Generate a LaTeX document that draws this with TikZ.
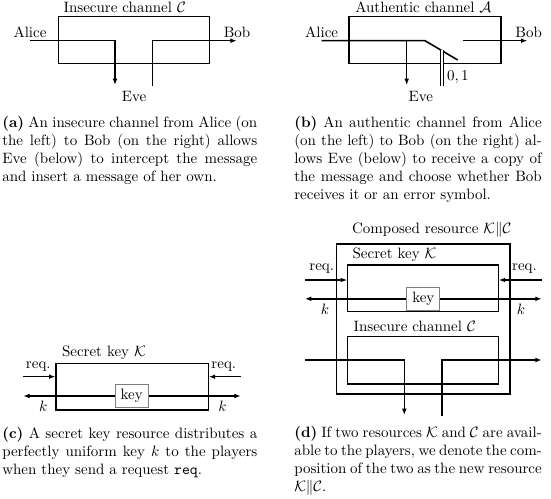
\documentclass[tikz,border=0pt]{standalone}
\usetikzlibrary{arrows.meta}
\begin{document}
\begin{tikzpicture}[x=0.6667pt,y=-0.6667pt,
  ln/.style={line width=1.05pt},
  arr/.style={ln,-{Latex[length=4.2pt,width=3.2pt]}},
  lbl/.style={inner sep=0,anchor=base},
  ttl/.style={inner sep=0,anchor=base west},
  keybox/.style={draw=gray,line width=0.6pt,fill=white,minimum width=22pt,minimum height=15pt,inner sep=0},
  captxt/.style={inner sep=0,anchor=base west}]
\useasboundingbox (0,0) rectangle (551,499);

% ---------- (a) insecure channel
\draw[ln] (58.3,16.7) rectangle (209.3,63.3);
\node[ttl] (ta) at (63.3,13) {Insecure channel $\mathcal{C}$};
\node[lbl] (aliceA) at (30,37.5) {Alice};
\node[lbl] (bobA) at (237,37.5) {Bob};
\node[lbl] (eveA) at (134,101.5) {Eve};
\coordinate (a1) at (30,40.7);
\coordinate (a2) at (115,40.7);
\coordinate (a3) at (115,85);
\coordinate (a4) at (152.7,86);
\coordinate (a5) at (152.7,40.7);
\coordinate (a6) at (236.7,40.7);
\draw[arr] (a1) -- (a2) -- (a3);
\draw[arr] (a4) -- (a5) -- (a6);
\node[captxt] (capA) at (2,128) {\begin{minipage}[t]{170pt}\textbf{(a)} An insecure channel from Alice (on\linebreak the left) to Bob (on the right) allows\linebreak Eve (below) to intercept the message\linebreak and insert a message of her own.\end{minipage}};

% ---------- (b) authentic channel
\draw[ln] (349,16.7) rectangle (501,63.3);
\node[ttl] (tb) at (355,13) {Authentic channel $\mathcal{A}$};
\node[lbl] (aliceB) at (321.7,37.5) {Alice};
\node[lbl] (bobB) at (528.7,37.5) {Bob};
\node[lbl] (eveB) at (420.8,101.5) {Eve};
\node[ttl] (bits) at (446.7,81) {$0,1$};
\coordinate (b1) at (321.7,40.7);
\coordinate (b2) at (425,40.7);
\coordinate (b3) at (457.7,60);
\coordinate (b4) at (406.7,40.7);
\coordinate (b5) at (406.7,85);
\coordinate (b6) at (463.3,40.7);
\coordinate (b7) at (527.3,40.7);
\coordinate (b8) at (441.7,50.5);
\coordinate (b9) at (441.7,86);
\draw[ln] (b1) -- (b2) -- (b3);
\draw[arr] (b4) -- (b5);
\draw[arr] (b6) -- (b7);
\draw[line width=0.55pt,double,double distance=1.4pt] (b8) -- (b9);
\node[captxt] (capB) at (294,128) {\begin{minipage}[t]{165pt}\textbf{(b)} An authentic channel from Alice\linebreak (on the left) to Bob (on the right) al-\linebreak lows Eve (below) to receive a copy of\linebreak the message and choose whether Bob\linebreak receives it or an error symbol.\end{minipage}};

% ---------- (c) secret key
\draw[ln] (56,363.3) rectangle (208.3,410);
\node[ttl] (tc) at (61.7,356.5) {Secret key $\mathcal{K}$};
\node[lbl] (reqCl) at (38.3,368.3) {req.};
\node[lbl] (reqCr) at (223.8,368.3) {req.};
\node[keybox] (keyC) at (131.7,396) {key};
\node[lbl] (kCl) at (43.3,411.5) {$k$};
\node[lbl] (kCr) at (222.5,411.5) {$k$};
\coordinate (c1) at (23.3,376.7);
\coordinate (c2) at (55.4,376.7);
\coordinate (c3) at (240.7,376.7);
\coordinate (c4) at (208.9,376.7);
\coordinate (c5) at (23.3,396);
\coordinate (c6) at (240.7,396);
\draw[arr] (c1) -- (c2);
\draw[arr] (c3) -- (c4);
\draw[arr] (keyC.west) -- (c5);
\draw[arr] (keyC.east) -- (c6);
\node[captxt] (capC) at (2,438.3) {\begin{minipage}[t]{170pt}\textbf{(c)} A secret key resource distributes a\linebreak perfectly uniform key $k$ to the players\linebreak when they send a request \texttt{req}.\end{minipage}};

% ---------- (d) composed resource
\draw[ln] (336.7,244) rectangle (510,394);
\node[ttl] (td) at (351.7,234) {Composed resource $\mathcal{K}\|\mathcal{C}$};
\draw[ln] (347.7,265) rectangle (498.3,311.7);
\node[ttl] (tdk) at (352.3,258) {Secret key $\mathcal{K}$};
\node[lbl] (reqDl) at (321.7,270.7) {req.};
\node[lbl] (reqDr) at (524.5,270.7) {req.};
\node[keybox] (keyD) at (423.3,298.8) {key};
\node[lbl] (kDl) at (325,314) {$k$};
\node[lbl] (kDr) at (521,314) {$k$};
\coordinate (d1) at (305,280);
\coordinate (d2) at (347.1,280);
\coordinate (d3) at (541.7,280);
\coordinate (d4) at (498.9,280);
\coordinate (d5) at (305,298.8);
\coordinate (d6) at (541.7,298.8);
\draw[arr] (d1) -- (d2);
\draw[arr] (d3) -- (d4);
\draw[arr] (keyD.west) -- (d5);
\draw[arr] (keyD.east) -- (d6);
\draw[ln] (347.7,336.7) rectangle (498.3,384);
\node[ttl] (tdc) at (353.3,331.7) {Insecure channel $\mathcal{C}$};
\coordinate (e1) at (305,360);
\coordinate (e2) at (404.3,360);
\coordinate (e3) at (404.3,415);
\coordinate (e4) at (442,416);
\coordinate (e5) at (442,360);
\coordinate (e6) at (541.7,360);
\draw[arr] (e1) -- (e2) -- (e3);
\draw[arr] (e4) -- (e5) -- (e6);
\node[captxt] (capD) at (294,437.3) {\begin{minipage}[t]{165pt}\textbf{(d)} If two resources $\mathcal{K}$ and $\mathcal{C}$ are avail-\linebreak able to the players, we denote the com-\linebreak position of the two as the new resource\linebreak $\mathcal{K}\|\mathcal{C}$.\end{minipage}};
\end{tikzpicture}
\end{document}
